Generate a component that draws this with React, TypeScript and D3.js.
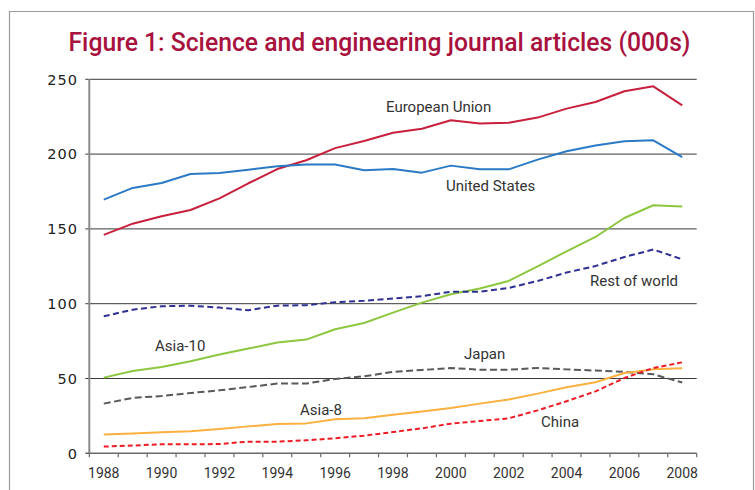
import React from "react";
import * as d3 from "d3";

const years = d3.range(1988, 2009).map(String);
const yTicks = [0, 50, 100, 150, 200, 250];
const xLabelYears = ["1988", "1990", "1992", "1994", "1996", "1998", "2000", "2002", "2004", "2006", "2008"];

const euValues = [146, 153.5, 158.4, 162.6, 170.4, 180.5, 190, 195.9, 204, 208.8, 214.3, 217, 222.6, 220.4, 221, 224.4, 230.4, 234.8, 242, 245.3, 232.6];
const usValues = [169.6, 177.4, 180.7, 186.7, 187.4, 189.6, 191.8, 193, 193, 189.2, 190, 187.6, 192.3, 189.8, 189.8, 196.3, 201.9, 205.7, 208.6, 209.2, 198];
const asia10Values = [50.6, 55, 57.7, 61.5, 66, 70, 74, 76, 82.9, 87.1, 94, 100.7, 106.3, 110.2, 115.2, 125, 135, 144.6, 157.3, 165.8, 164.9];
const rowValues = [91.6, 96, 98.3, 98.7, 97.4, 95.6, 98.7, 99, 101, 102, 103.5, 105, 108, 108, 110.5, 115.2, 120.8, 125.2, 131.2, 136.2, 129.7];
const japanValues = [33.2, 37, 38.3, 40.3, 42.1, 44.3, 46.6, 46.6, 49.7, 51.5, 54.4, 55.7, 57, 55.9, 55.9, 57, 56.1, 55.3, 54.4, 52.8, 47.3];
const asia8Values = [12.5, 13.2, 14, 14.7, 16.3, 18, 19.6, 20, 22.7, 23.4, 25.8, 28, 30.3, 33.2, 35.9, 39.9, 44.1, 47.5, 53.7, 56.1, 56.8];
const chinaValues = [4.5, 5.2, 6, 6, 6.2, 7.8, 7.8, 8.7, 10, 11.8, 14.2, 16.7, 19.8, 21.6, 23.4, 28.7, 34.8, 41.4, 50.3, 57, 60.8];

const seriesNames = ["European Union", "United States", "Asia-10", "Rest of world", "Japan", "Asia-8", "China"];

const series = [
  { name: seriesNames[0], values: euValues, color: "#c8203c", dash: null, label: { x: 386, y: 107 } },
  { name: seriesNames[1], values: usValues, color: "#2a7ac6", dash: null, label: { x: 446, y: 186 } },
  { name: seriesNames[2], values: asia10Values, color: "#8dc63f", dash: null, label: { x: 155, y: 346 } },
  { name: seriesNames[3], values: rowValues, color: "#2e3192", dash: "6,3.5", label: { x: 590, y: 281 } },
  { name: seriesNames[4], values: japanValues, color: "#58595b", dash: "7,3.5", label: { x: 464, y: 354 } },
  { name: seriesNames[5], values: asia8Values, color: "#fbb040", dash: null, label: { x: 300, y: 410 } },
  { name: seriesNames[6], values: chinaValues, color: "#ed1c24", dash: "5,3", label: { x: 541, y: 422 } },
];

const W = 755;
const H = 490;
const left = 89.3;
const right = 696.7;
const top = 79.3;
const bottom = 453.3;

export default function App() {
  const x = d3.scaleBand<string>().domain(years).range([left, right]).paddingInner(0).paddingOuter(0);
  const y = d3.scaleLinear().domain([0, 250]).range([bottom, top]);
  const cx = (yr: string) => (x(yr) as number) + x.bandwidth() / 2;
  const line = d3
    .line<number>()
    .x((_, i) => cx(years[i]))
    .y((d) => y(d))
    .curve(d3.curveLinear);

  const boundaries = years.map((yr) => x(yr) as number).concat([right]);

  return (
    <svg width={W} height={H} style={{ position: "absolute", left: 0, top: 0, background: "#fff" }}>
      {/* frame */}
      <path d={`M9.5,${H} V11.5 H753.5 V${H}`} fill="none" stroke="#9a9a9a" strokeWidth={1.2} />
      {/* title */}
      <text
        x={(68 + 691) / 2}
        y={51}
        textAnchor="middle"
        fill="#a8123e"
        fontFamily="Roboto, 'Liberation Sans', sans-serif"
        fontWeight={500}
        fontSize={25}
        textLength={622}
        lengthAdjust="spacingAndGlyphs"
      >
        Figure 1: Science and engineering journal articles (000s)
      </text>
      {/* gridlines */}
      {yTicks.filter((t) => t > 0).map((t) => (
        <line key={"g" + t} x1={left - 4} x2={right} y1={y(t)} y2={y(t)} stroke="#3a3a3a" strokeWidth={1} />
      ))}
      {/* axes */}
      <line x1={left} x2={left} y1={top} y2={bottom} stroke="#8a8a8a" strokeWidth={2} />
      <line x1={left - 4} x2={right} y1={bottom} y2={bottom} stroke="#6a6a6a" strokeWidth={1.5} />
      {boundaries.map((bx, i) => (
        <line key={"t" + i} x1={bx} x2={bx} y1={bottom} y2={bottom + 4} stroke="#6a6a6a" strokeWidth={1.2} />
      ))}
      {yTicks.map((t) => (
        <text
          key={"yl" + t}
          x={78}
          y={y(t)}
          dy="0.36em"
          textAnchor="end"
          fill="#222"
          fontFamily="'DejaVu Sans', Verdana, sans-serif"
          fontSize={14.5}
          letterSpacing={1}
        >
          {t}
        </text>
      ))}
      {xLabelYears.map((yr) => (
        <text
          key={"xl" + yr}
          x={cx(yr)}
          y={478}
          textAnchor="middle"
          fill="#333"
          fontFamily="Roboto, 'Liberation Sans', sans-serif"
          fontSize={14}
        >
          {yr}
        </text>
      ))}
      {/* series */}
      {series.map((s) => (
        <path
          key={s.name}
          d={line(s.values) as string}
          fill="none"
          stroke={s.color}
          strokeWidth={2}
          strokeLinejoin="round"
          strokeDasharray={s.dash ?? undefined}
        />
      ))}
      {series.map((s) => (
        <text
          key={"lab" + s.name}
          x={s.label.x}
          y={s.label.y}
          dy="0.36em"
          fill="#333"
          fontFamily="Roboto, 'Liberation Sans', sans-serif"
          fontSize={15}
        >
          {s.name}
        </text>
      ))}
    </svg>
  );
}
